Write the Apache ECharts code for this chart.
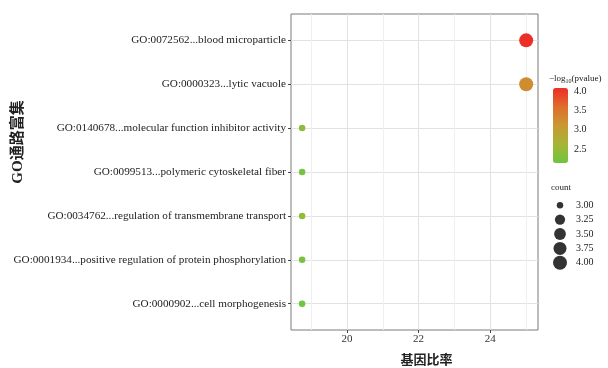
<!DOCTYPE html>
<html>
<head>
<meta charset="utf-8">
<script src="https://cdn.jsdelivr.net/npm/echarts@6/dist/echarts.min.js"></script>
<style>
  html, body { margin: 0; padding: 0; background: #fff; }
  #chart { width: 608px; height: 368px; }
</style>
</head>
<body>
<div id="chart"></div>
<script>
// GO terms, top to bottom
const terms = [
  'GO:0072562...blood microparticle',
  'GO:0000323...lytic vacuole',
  'GO:0140678...molecular function inhibitor activity',
  'GO:0099513...polymeric cytoskeletal fiber',
  'GO:0034762...regulation of transmembrane transport',
  'GO:0001934...positive regulation of protein phosphorylation',
  'GO:0000902...cell morphogenesis'
];
const geneRatio = [25, 25, 18.75, 18.75, 18.75, 18.75, 18.75];
const counts = [4, 4, 3, 3, 3, 3, 3];
const logP = [4.08, 3.25, 2.4, 2.2, 2.45, 2.25, 2.14];

const xTicks = [20, 22, 24];
const xMinor = [19, 21, 23, 25];
const colorTicks = [2.5, 3.0, 3.5, 4.0];
const countLegend = [3.00, 3.25, 3.50, 3.75, 4.00];

const FONT = '"Liberation Serif", "Noto Sans CJK SC", serif';
const cMin = 2.14, cMax = 4.08;
const nMin = 3, nMax = 4;

// area-style size scale like ggplot
function dotSize(n) {
  const t = (n - nMin) / (nMax - nMin);
  return 6.5 + 7.5 * Math.sqrt(t);
}

const points = terms.map((t, i) => [geneRatio[i], i, counts[i], logP[i]]);

const chart = echarts.init(document.getElementById('chart'));
chart.setOption({
  backgroundColor: '#fff',
  animation: false,
  title: [
    {
      text: '−log{sub|10}(pvalue)',
      left: 549, top: 73, padding: 0,
      textStyle: {
        fontFamily: FONT, fontSize: 9, fontWeight: 'normal', color: '#222',
        rich: { sub: { fontFamily: FONT, fontSize: 6, color: '#222', padding: [5, 0, 0, 0] } }
      }
    },
    {
      text: 'count',
      left: 551, top: 183, padding: 0,
      textStyle: { fontFamily: FONT, fontSize: 9, fontWeight: 'normal', color: '#222' }
    }
  ],
  grid: [
    { left: 291, right: 70, top: 14, bottom: 38, outerBoundsMode: 'none', show: true, borderColor: '#7a7a7a', borderWidth: 1, backgroundColor: 'transparent' },
    { left: 553, top: 88, width: 15, height: 75, outerBoundsMode: 'none' },
    { left: 553, top: 198, width: 14, height: 72, outerBoundsMode: 'none' }
  ],
  xAxis: [
    {
      gridIndex: 0, type: 'value', min: 18.44, max: 25.33,
      name: '基因比率', nameLocation: 'middle', nameGap: 24, nameMoveOverlap: false,
      nameTextStyle: { fontFamily: FONT, fontSize: 13, fontWeight: 'bold', color: '#222', padding: [0, 0, 0, 24] },
      axisLine: { show: false, onZero: false },
      axisTick: { show: true, length: 3, customValues: xTicks, lineStyle: { color: '#444' } },
      axisLabel: { customValues: xTicks, fontFamily: FONT, fontSize: 11, color: '#333', margin: 4 },
      splitLine: { show: true, lineStyle: { color: '#e2e2e2', width: 1 } }
    },
    {
      gridIndex: 0, type: 'value', min: 18.44, max: 25.33, position: 'bottom',
      axisLine: { show: false, onZero: false },
      axisTick: { show: false, customValues: xMinor },
      axisLabel: { show: false },
      splitLine: { show: true, lineStyle: { color: '#efefef', width: 1 } }
    },
    { gridIndex: 1, type: 'value', min: -1, max: 1, show: false },
    { gridIndex: 2, type: 'value', min: -1, max: 1, show: false }
  ],
  yAxis: [
    {
      gridIndex: 0, type: 'value', min: -0.6, max: 6.6, inverse: true,
      name: 'GO通路富集', nameLocation: 'middle', nameGap: 265, nameRotate: 90, nameMoveOverlap: false,
      nameTextStyle: { fontFamily: FONT, fontSize: 15, fontWeight: 'bold', color: '#222', padding: [0, 0, 0, 60] },
      axisLine: { show: false, onZero: false },
      axisTick: { show: true, length: 3, customValues: [0, 1, 2, 3, 4, 5, 6], lineStyle: { color: '#444' } },
      axisLabel: {
        customValues: [0, 1, 2, 3, 4, 5, 6],
        formatter: v => terms[Math.round(v)],
        fontFamily: FONT, fontSize: 11.2, color: '#222', margin: 5
      },
      splitLine: { show: true, lineStyle: { color: '#e2e2e2', width: 1 } }
    },
    {
      gridIndex: 1, type: 'value', min: cMin, max: cMax, position: 'right',
      axisLine: { show: false, onZero: false },
      axisTick: { show: true, inside: true, length: 3, customValues: colorTicks, lineStyle: { color: '#fff' } },
      axisLabel: { customValues: colorTicks, formatter: v => v.toFixed(1), fontFamily: FONT, fontSize: 10, color: '#222', margin: 6 },
      splitLine: { show: false }
    },
    {
      gridIndex: 2, type: 'category', inverse: true, position: 'right',
      data: countLegend.map(v => v.toFixed(2)),
      axisLine: { show: false }, axisTick: { show: false },
      axisLabel: { fontFamily: FONT, fontSize: 10, color: '#222', margin: 9 },
      splitLine: { show: false }
    }
  ],
  visualMap: {
    type: 'continuous', seriesIndex: 0, dimension: 3,
    min: cMin, max: cMax, calculable: false, realtime: false,
    left: 553, top: 88, itemWidth: 15, itemHeight: 75, padding: 0,
    text: ['', ''], showLabel: false,
    inRange: { color: ['#6ec540', '#a6b534', '#c99832', '#df6d2c', '#ec2e26'] }
  },
  series: [
    {
      type: 'scatter', xAxisIndex: 0, yAxisIndex: 0,
      data: points,
      symbolSize: d => dotSize(d[2]),
      itemStyle: { opacity: 1 }
    },
    {
      type: 'scatter', xAxisIndex: 3, yAxisIndex: 2,
      data: countLegend.map((v, i) => [0, i]),
      symbolSize: (d, p) => dotSize(countLegend[p.dataIndex]),
      itemStyle: { color: '#000' }
    }
  ]
});
</script>
</body>
</html>
